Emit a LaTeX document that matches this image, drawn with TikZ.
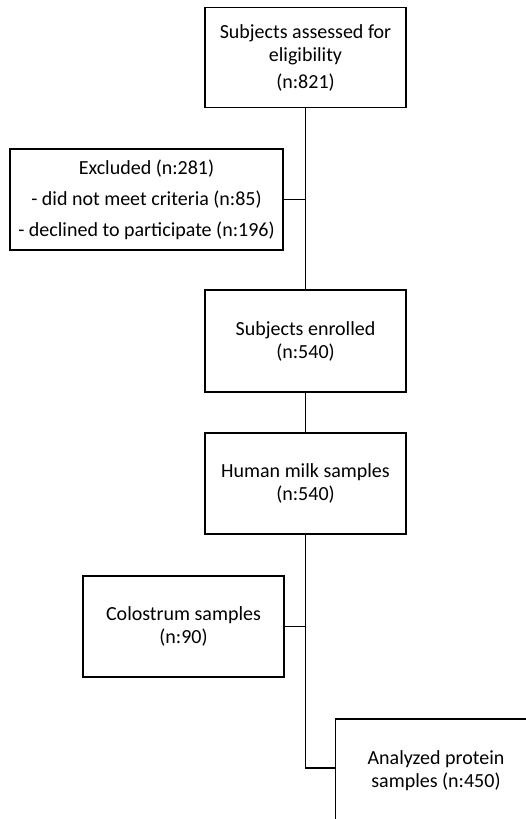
\documentclass[tikz,border=0pt]{standalone}
\usepackage{fontspec}
\setmainfont{Carlito}
\begin{document}
\begin{tikzpicture}[x=1pt,y=-1pt,
  flowbox/.style={draw=black, line width=1.6pt, rectangle, inner sep=0pt,
    minimum width=201pt, minimum height=100pt, align=center,
    font=\fontsize{20}{23}\selectfont, text=black},
  link/.style={draw=black, line width=1.6pt}]
  \useasboundingbox (0,0) rectangle (526,819);
  \clip (0,0) rectangle (526,819);

  \node[flowbox] (assessed) at (305.5,57.5)
    {Subjects assessed for\\eligibility\\[4pt](n:821)};
  \node[flowbox, minimum width=273pt, minimum height=101pt,
        font=\fontsize{20}{31}\selectfont] (excluded) at (146.5,199.5)
    {Excluded (n:281)\\- did not meet criteria (n:85)\\- declined to participate (n:196)};
  \node[flowbox, minimum height=102pt] (enrolled) at (305.5,341)
    {Subjects enrolled\\(n:540)};
  \node[flowbox, minimum height=101pt] (milk) at (305.5,483.5)
    {Human milk samples\\(n:540)};
  \node[flowbox, minimum height=101pt] (colostrum) at (183.5,626.5)
    {Colostrum samples\\(n:90)};
  % this box runs past the lower edge of the page
  \node[flowbox, minimum height=103pt] (protein) at (436,770.5)
    {Analyzed protein\\samples (n:450)};

  \draw[link] (assessed.south) -- (enrolled.north);
  \draw[link] (excluded.east) -- (excluded.east -| assessed.south);
  \draw[link] (enrolled.south) -- (milk.north);
  \draw[link] (milk.south) |- ([yshift=2.5pt]protein.west);
  \draw[link] (colostrum.east) -- (colostrum.east -| milk.south);
\end{tikzpicture}
\end{document}
